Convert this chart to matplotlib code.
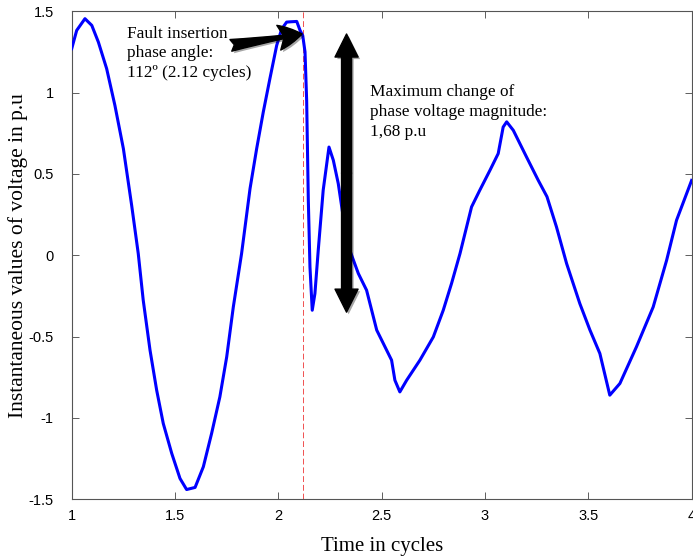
import matplotlib
matplotlib.use("Agg")
import matplotlib.pyplot as plt
import matplotlib.patheffects as pe

# signal (time in cycles, voltage in p.u)
t = [1.0, 1.024, 1.064, 1.097, 1.129, 1.169, 1.209, 1.25, 1.29, 1.322,
     1.346, 1.379, 1.411, 1.443, 1.484, 1.524, 1.556, 1.597, 1.637, 1.677,
     1.717, 1.75, 1.782, 1.822, 1.863, 1.895, 1.927, 1.959, 1.992, 2.016,
     2.04, 2.06, 2.089, 2.105, 2.118, 2.129, 2.137, 2.145, 2.153, 2.164,
     2.177, 2.193, 2.217, 2.245, 2.266, 2.29, 2.314, 2.346, 2.387, 2.427,
     2.476, 2.548, 2.564, 2.588, 2.621, 2.685, 2.75, 2.798, 2.838, 2.879,
     2.911, 2.935, 2.975, 3.024, 3.064, 3.088, 3.105, 3.137, 3.201, 3.258,
     3.30, 3.346, 3.395, 3.459, 3.508, 3.556, 3.604, 3.653, 3.733, 3.814,
     3.879, 3.927, 4.0]
v = [1.27, 1.382, 1.454, 1.413, 1.31, 1.147, 0.921, 0.655, 0.307, 0.01,
     -0.276, -0.584, -0.829, -1.034, -1.218, -1.372, -1.44, -1.427, -1.30, -1.095,
     -0.87, -0.625, -0.318, 0.01, 0.41, 0.655, 0.88, 1.085, 1.29, 1.39,
     1.433, 1.435, 1.437, 1.382, 1.35, 1.25, 0.95, 0.338, -0.072, -0.338,
     -0.235, 0.03, 0.40, 0.665, 0.584, 0.44, 0.235, 0.03, -0.112, -0.215,
     -0.46, -0.645, -0.768, -0.84, -0.768, -0.645, -0.502, -0.338, -0.174, 0.01,
     0.174, 0.297, 0.40, 0.522, 0.625, 0.788, 0.82, 0.768, 0.604, 0.46,
     0.36, 0.174, -0.051, -0.297, -0.46, -0.604, -0.86, -0.788, -0.563, -0.318,
     -0.031, 0.215, 0.46]

fault_t = 2.12
xticks = [1, 1.5, 2, 2.5, 3, 3.5, 4]
xtick_labels = ["1", "1.5", "2", "2.5", "3", "3.5", "4"]
yticks = [-1.5, -1, -0.5, 0, 0.5, 1, 1.5]
ytick_labels = ["-1.5", "-1", "-0.5", "0", "0.5", "1", "1.5"]

serif = "Liberation Serif"
sans = "Liberation Sans"

fig = plt.figure(figsize=(6.93, 5.6), dpi=100)
ax = fig.add_axes([0.1035, 0.1084, 0.8945, 0.8716])

ax.plot(t, v, color="#0000ff", lw=2.2, zorder=3)
ax.axvline(fault_t, color="#f05050", lw=0.7, ls=(0, (6, 3)), zorder=2)

ax.set_xlim(1, 4)
ax.set_ylim(-1.5, 1.5)
ax.set_xticks(xticks)
ax.set_xticklabels(xtick_labels, fontfamily=sans, fontsize=10.5)
ax.set_yticks(yticks)
ax.set_yticklabels(ytick_labels, fontfamily=sans, fontsize=10.5)
ax.tick_params(axis="both", direction="in", length=5, width=0.6,
               top=True, right=True, color="#444444")
ax.tick_params(axis="x", pad=7)
ax.tick_params(axis="y", pad=13)
for s in ax.spines.values():
    s.set_color("#555555")
    s.set_linewidth(0.8)

ax.set_xlabel("Time in cycles", fontfamily=serif, fontsize=15, labelpad=10)
ax.set_ylabel("Instantaneous values of voltage in p.u", fontfamily=serif,
              fontsize=15.5, labelpad=0)

shadow = [pe.SimplePatchShadow(offset=(1.5, -1.5), alpha=0.35), pe.Normal()]

# fault insertion note
ax.text(1.268, 1.411, "Fault insertion\nphase angle:\n112º (2.12 cycles)",
        fontfamily=serif, fontsize=12.4, ha="left", va="top", linespacing=1.3)
ax.annotate("", xy=(2.115, 1.36), xytext=(1.77, 1.29),
            arrowprops=dict(arrowstyle="fancy,head_length=1.7,head_width=1.8,tail_width=0.85",
                            mutation_scale=10, color="black", shrinkA=0, shrinkB=0,
                            connectionstyle="arc3,rad=0", path_effects=shadow))

# maximum change note, double headed arrow
ax.text(2.443, 1.05, "Maximum change of\nphase voltage magnitude:\n1,68 p.u",
        fontfamily=serif, fontsize=12.4, ha="left", va="top", linespacing=1.3)
mid = (1.36 + -0.35) / 2
for end in (1.36, -0.35):
    ax.annotate("", xy=(2.33, end), xytext=(2.33, mid),
                arrowprops=dict(arrowstyle="simple,head_length=1.66,head_width=1.66,tail_width=0.72",
                                mutation_scale=10, color="black", shrinkA=0, shrinkB=0,
                                path_effects=shadow))

fig.savefig("out.png", dpi=100)
